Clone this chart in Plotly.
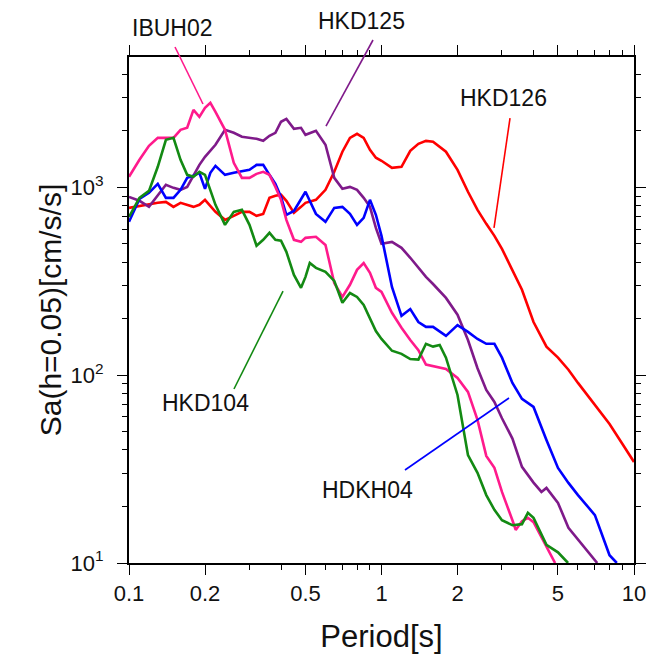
import plotly.graph_objects as go

# ---- data (period in s, Sa in cm/s/s) ----
period_hkd126 = [0.10, 0.11, 0.12, 0.13, 0.14, 0.15, 0.16, 0.17, 0.18, 0.19, 0.20, 0.22, 0.24, 0.26, 0.28,
                 0.30, 0.32, 0.34, 0.36, 0.38, 0.40, 0.42, 0.45, 0.48, 0.50, 0.55, 0.60, 0.65, 0.70, 0.75,
                 0.80, 0.85, 0.90, 0.95, 1.0, 1.1, 1.2, 1.3, 1.4, 1.5, 1.6, 1.8, 2.0, 2.2, 2.4, 2.6, 2.8,
                 3.0, 3.3, 3.6, 4.0, 4.5, 5.0, 5.5, 6.0, 7.0, 8.0, 9.0, 10.0]
sa_hkd126 = [778, 798, 818, 828, 838, 788, 828, 808, 788, 808, 859, 742, 672, 706, 741,
             741, 706, 723, 880, 903, 914, 849, 732, 788, 828, 859, 971, 1211, 1549, 1837,
             1931, 1837, 1585, 1439, 1387, 1271, 1288, 1567, 1706, 1770, 1750, 1549, 1241, 948, 760, 640, 552,
             471, 364, 285, 192, 142, 124, 107, 91, 70, 55, 43, 34.5]

period_hkd125 = [0.10, 0.11, 0.12, 0.13, 0.14, 0.15, 0.16, 0.17, 0.18, 0.19, 0.20, 0.22, 0.24, 0.26, 0.28,
                 0.30, 0.32, 0.34, 0.36, 0.38, 0.40, 0.42, 0.45, 0.48, 0.50, 0.55, 0.60, 0.65, 0.70, 0.75,
                 0.80, 0.85, 0.90, 0.95, 1.0, 1.1, 1.2, 1.3, 1.4, 1.5, 1.6, 1.8, 2.0, 2.2, 2.4, 2.6, 2.8,
                 3.0, 3.3, 3.6, 4.0, 4.3, 4.5, 5.0, 5.5, 6.0, 7.0, 7.15]
sa_hkd125 = [891, 849, 788, 902, 1033, 995, 971, 1007, 1153, 1319, 1455, 1687, 2028, 1954, 1862,
             1837, 1815, 1772, 1884, 1954, 2238, 2318, 2052, 2078, 1906, 2003, 1687, 1125, 983, 1007,
             971, 880, 788, 609, 501, 513, 477, 422, 373, 334, 306, 258, 210, 154, 109, 83.5, 72,
             59, 46, 32.5, 26.8, 23.9, 25.1, 20.9, 15.4, 13.3, 10.4, 10.0]

period_hdkh04 = [0.10, 0.11, 0.12, 0.13, 0.14, 0.15, 0.16, 0.17, 0.18, 0.19, 0.20, 0.21, 0.22, 0.24, 0.26, 0.28,
                 0.30, 0.32, 0.34, 0.36, 0.38, 0.40, 0.42, 0.45, 0.48, 0.50, 0.55, 0.60, 0.65, 0.70, 0.75,
                 0.80, 0.85, 0.90, 0.95, 1.0, 1.1, 1.2, 1.3, 1.4, 1.5, 1.6, 1.8, 2.0, 2.2, 2.4, 2.6, 2.8,
                 3.0, 3.3, 3.6, 4.0, 4.5, 5.0, 5.5, 6.0, 7.0, 8.0, 8.55]
sa_hdkh04 = [656, 869, 936, 1045, 880, 880, 971, 1125, 1153, 1197, 983, 1197, 1303, 1167, 1197, 1225,
             1241, 1319, 1319, 1167, 1045, 891, 715, 750, 869, 948, 723, 656, 778, 788, 723,
             632, 689, 859, 715, 552, 295, 207, 225, 192, 181, 181, 162, 185, 170, 156, 147, 147,
             124, 91, 74.8, 67.8, 45.2, 32.1, 26.7, 23.0, 18.0, 11.0, 10.0]

period_ibuh02 = [0.10, 0.11, 0.12, 0.13, 0.14, 0.15, 0.16, 0.17, 0.18, 0.19, 0.20, 0.21, 0.22, 0.24, 0.26, 0.28,
                 0.30, 0.32, 0.34, 0.36, 0.38, 0.40, 0.42, 0.45, 0.48, 0.50, 0.55, 0.60, 0.65, 0.70, 0.75,
                 0.80, 0.85, 0.90, 0.95, 1.0, 1.1, 1.2, 1.3, 1.4, 1.5, 1.6, 1.8, 2.0, 2.2, 2.4, 2.6, 2.8,
                 3.0, 3.3, 3.4, 3.6, 3.8, 4.0, 4.5, 4.87]
sa_ibuh02 = [1139, 1403, 1666, 1837, 1837, 1837, 2028, 2078, 2590, 2377, 2655, 2825, 2528, 2028, 1352, 1125,
             1125, 1181, 1211, 1167, 1007, 859, 672, 526, 513, 539, 546, 494, 310, 261, 303,
             364, 396, 351, 292, 278, 215, 179, 154, 136, 114, 112, 108, 96.8, 81.5, 57.8, 37.2, 32.1,
             23.9, 16.9, 15.0, 16.7, 17.4, 16.5, 12.2, 10.0]

period_hkd104 = [0.10, 0.11, 0.12, 0.13, 0.14, 0.15, 0.16, 0.17, 0.18, 0.19, 0.20, 0.22, 0.24, 0.26, 0.28,
                 0.30, 0.32, 0.34, 0.36, 0.38, 0.40, 0.42, 0.45, 0.48, 0.50, 0.52, 0.55, 0.60, 0.65, 0.70, 0.75,
                 0.80, 0.85, 0.90, 0.95, 1.0, 1.1, 1.2, 1.3, 1.4, 1.5, 1.6, 1.7, 1.8, 2.0, 2.2, 2.4, 2.6, 2.8,
                 3.0, 3.3, 3.6, 3.8, 4.0, 4.3, 4.5, 5.0, 5.48]
sa_hkd104 = [697, 880, 959, 1288, 1794, 1837, 1403, 1167, 1139, 1211, 1167, 808, 632, 741, 760,
             632, 489, 526, 573, 526, 520, 454, 342, 292, 334, 396, 373, 355, 318, 243, 274,
             261, 237, 202, 172, 156, 135, 130, 122, 121, 147, 142, 145, 124, 78.5, 37.6, 30.2, 23.0, 19.2,
             16.9, 15.9, 16.1, 18.5, 17.4, 14.1, 12.5, 11.4, 10.0]

series = [
    ("HKD126", period_hkd126, sa_hkd126, "#ff0000"),
    ("HKD125", period_hkd125, sa_hkd125, "#7f1a8a"),
    ("HDKH04", period_hdkh04, sa_hdkh04, "#0000ff"),
    ("IBUH02", period_ibuh02, sa_ibuh02, "#ff1a8c"),
    ("HKD104", period_hkd104, sa_hkd104, "#138a13"),
]

x_major = [0.1, 0.2, 0.5, 1, 2, 5, 10]
x_major_text = ["0.1", "0.2", "0.5", "1", "2", "5", "10"]
x_minor = [0.3, 0.4, 0.6, 0.7, 0.8, 0.9, 3, 4, 6, 7, 8, 9]
y_major = [10, 100, 1000]
y_major_text = ["10<sup>1</sup>", "10<sup>2</sup>", "10<sup>3</sup>"]
y_minor = [20, 30, 40, 50, 60, 70, 80, 90, 200, 300, 400, 500, 600, 700, 800, 900, 2000, 3000, 4000]

FONT = "Liberation Sans, Arial, Helvetica, sans-serif"

fig = go.Figure()
for name, px_, py_, col in series:
    fig.add_trace(go.Scatter(x=px_, y=py_, mode="lines", name=name,
                             line=dict(color=col, width=2.6), showlegend=False))

# labels with leader lines (paper coordinates relative to the plot area)
labels = [
    ("IBUH02", 0.087, 1.057, "#ff1a8c", (0.0911, 1.0198, 0.1465, 0.9071)),
    ("HKD125", 0.461, 1.071, "#7f1a8a", (0.4832, 1.0336, 0.3901, 0.8636)),
    ("HKD126", 0.741, 0.919, "#ff0000", (0.7545, 0.8794, 0.7228, 0.6621)),
    ("HKD104", 0.152, 0.316, "#138a13", (0.3050, 0.5375, 0.2079, 0.3439)),
    ("HDKH04", 0.473, 0.144, "#0000ff", (0.7525, 0.3261, 0.5465, 0.1838)),
]
for text, ax_, ay_, col, (x0, y0, x1, y1) in labels:
    fig.add_annotation(x=ax_, y=ay_, xref="paper", yref="paper", text=text, showarrow=False,
                       font=dict(family=FONT, size=23, color="#111111"),
                       xanchor="center", yanchor="middle")
    fig.add_shape(type="line", xref="paper", yref="paper", x0=x0, y0=y0, x1=x1, y1=y1,
                  line=dict(color=col, width=1.6))

axis_common = dict(
    showline=True, linecolor="black", linewidth=2, mirror="allticks",
    ticks="outside", ticklen=10, tickwidth=1.2, tickcolor="black",
    showgrid=False, zeroline=False,
    tickfont=dict(family=FONT, size=22, color="#111111"),
)

fig.update_xaxes(type="log", range=[-1, 1], tickmode="array", tickvals=x_major, ticktext=x_major_text,
                 minor=dict(tickmode="array", tickvals=x_minor, ticks="outside", ticklen=5,
                            tickwidth=1.2, tickcolor="black", showgrid=False),
                 title=dict(text="Period[s]", font=dict(family=FONT, size=31, color="#111111"), standoff=20),
                 **axis_common)
fig.update_yaxes(type="log", range=[1, 3.6946], tickmode="array", tickvals=y_major, ticktext=y_major_text,
                 ticklabelstandoff=9,
                 minor=dict(tickmode="array", tickvals=y_minor, ticks="outside", ticklen=5,
                            tickwidth=1.2, tickcolor="black", showgrid=False),
                 title=dict(text="Sa(h=0.05)[cm/s/s]", font=dict(family=FONT, size=30, color="#111111"),
                            standoff=0),
                 **axis_common)

# the page body has an 8px default margin, so the figure is shrunk by 8px and shifted back
fig.update_layout(width=653, height=653, margin=dict(l=121, r=27, t=49, b=98),
                  plot_bgcolor="white", paper_bgcolor="white")

fig.write_html("out.html")
